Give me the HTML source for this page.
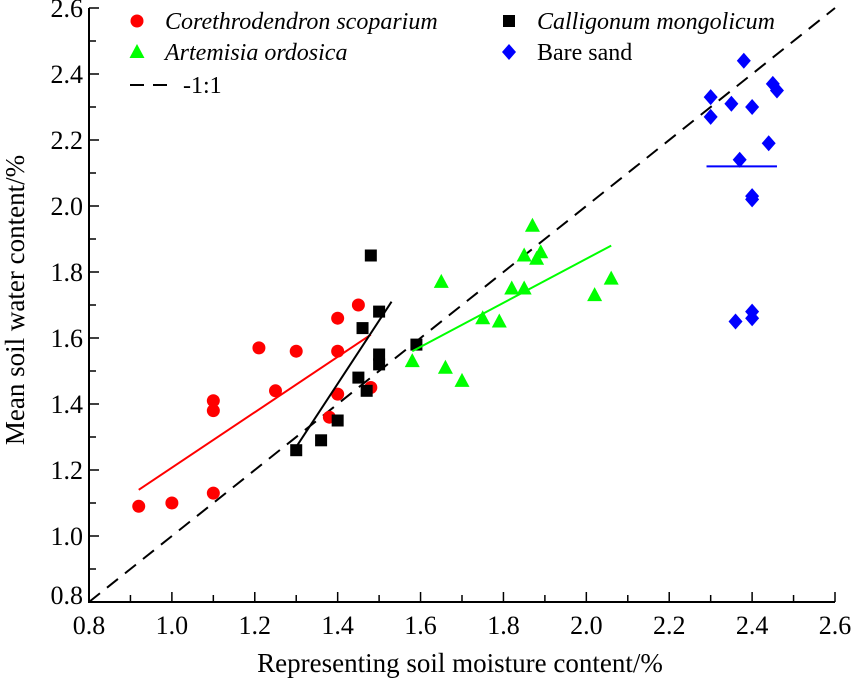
<!DOCTYPE html>
<html><head><meta charset="utf-8"><style>
body{margin:0;background:#fff}
svg text{font-family:"Liberation Serif",serif}
</style></head><body>
<svg id="c" width="851" height="684" xmlns="http://www.w3.org/2000/svg"></svg>
<script>
const xTicks=[0.8,1.0,1.2,1.4,1.6,1.8,2.0,2.2,2.4,2.6];
const yTicks=[0.8,1.0,1.2,1.4,1.6,1.8,2.0,2.2,2.4,2.6];
const redX=[0.92,1.0,1.10,1.10,1.10,1.21,1.25,1.30,1.38,1.40,1.40,1.40,1.45,1.48];
const redY=[1.09,1.10,1.13,1.38,1.41,1.57,1.44,1.56,1.36,1.43,1.56,1.66,1.70,1.45];
const blackX=[1.30,1.36,1.40,1.45,1.46,1.47,1.48,1.50,1.50,1.50,1.59];
const blackY=[1.26,1.29,1.35,1.48,1.63,1.44,1.85,1.68,1.55,1.52,1.58];
const greenX=[1.58,1.65,1.66,1.70,1.75,1.79,1.82,1.85,1.85,1.87,1.88,1.89,2.02,2.06];
const greenY=[1.53,1.77,1.51,1.47,1.66,1.65,1.75,1.75,1.85,1.94,1.84,1.86,1.73,1.78];
const blueX=[2.30,2.30,2.35,2.37,2.38,2.40,2.40,2.40,2.40,2.40,2.36,2.44,2.45,2.46];
const blueY=[2.33,2.27,2.31,2.14,2.44,2.30,2.03,2.02,1.68,1.66,1.65,2.19,2.37,2.35];
const redFit=[[0.92,1.14],[1.48,1.61]];
const blackFit=[[1.30,1.27],[1.53,1.71]];
const greenFit=[[1.58,1.56],[2.06,1.88]];
const blueFit=[[2.29,2.12],[2.46,2.12]];
const oneToOne=[[0.8,0.8],[2.6,2.6]];

const svg=document.getElementById('c');const NS='http://www.w3.org/2000/svg';
const X0=89,X1=835,Y0=602,Y1=8;
const sx=v=>X0+(v-0.8)/1.8*(X1-X0);
const sy=v=>Y0-(v-0.8)/1.8*(Y0-Y1);
function mk(t,a,p){const e=document.createElementNS(NS,t);for(const k in a)e.setAttribute(k,a[k]);(p||svg).appendChild(e);return e;}
// axes
let ax=mk('path',{d:`M${X0},${Y1}V${Y0}H${X1}`,stroke:'#000','stroke-width':2,fill:'none'});


for(let i=0;i<=18;i++){const v=0.8+i*0.1;const L=(i%2==0)?10:7;
 let t=mk('line',{x1:sx(v),x2:sx(v),y1:Y0,y2:Y0-L,stroke:'#000','stroke-width':1.5});
 
 
 let u=mk('line',{x1:X0,x2:X0+L,y1:sy(v),y2:sy(v),stroke:'#000','stroke-width':1.5});
 
 }
xTicks.forEach(v=>{let t=mk('text',{x:sx(v),y:Y0+32,'font-size':26,'text-anchor':'middle'});t.textContent=v.toFixed(1);
 
 });
yTicks.forEach(v=>{let t=mk('text',{x:X0-6,y:sy(v)+(v==0.8?2:9),'font-size':26,'text-anchor':'end'});t.textContent=v.toFixed(1);
 
 });
let xl=mk('text',{x:460,y:672,'font-size':27,'text-anchor':'middle'});xl.textContent='Representing soil moisture content/%';


let yl=mk('text',{x:0,y:0,'font-size':27,'text-anchor':'middle',transform:'translate(24,300) rotate(-90)'});yl.textContent='Mean soil water content/%';


function line(p,col,dash,name){let l=mk('line',{x1:sx(p[0][0]),y1:sy(p[0][1]),x2:sx(p[1][0]),y2:sy(p[1][1]),stroke:col,'stroke-width':2});if(dash)l.setAttribute('stroke-dasharray',dash);
 
 }
line(oneToOne,'#000','14,9','one-to-one-line');
function marker(shape,x,y,col){let e;
 if(shape=='c')e=mk('circle',{cx:x,cy:y,r:6.5,fill:col});
 else if(shape=='s')e=mk('rect',{x:x-6,y:y-6,width:12,height:12,fill:col});
 else if(shape=='t')e=mk('polygon',{points:`${x},${y-8} ${x-7.5},${y+6} ${x+7.5},${y+6}`,fill:col});
 else e=mk('polygon',{points:`${x},${y-8} ${x+7},${y} ${x},${y+8} ${x-7},${y}`,fill:col});
 return e;}
function series(xs,ys,shape,col,name){xs.forEach((v,i)=>{let e=marker(shape,sx(v),sy(ys[i]),col);
 
 });}
series(redX,redY,'c','#f00','point-corethrodendron');
series(blackX,blackY,'s','#000','point-calligonum');
series(greenX,greenY,'t','#0f0','point-artemisia');
series(blueX,blueY,'d','#00f','point-bare-sand');
line(redFit,'#f00',null,'fit-corethrodendron');
line(blackFit,'#000',null,'fit-calligonum');
line(greenFit,'#0f0',null,'fit-artemisia');
line(blueFit,'#00f',null,'fit-bare-sand');
// legend
function leg(shape,col,x,y,txt,ital,name){let g=mk('g',{});
 
 
 if(shape=='dash'){mk('line',{x1:x-8,x2:x+34,y1:y,y2:y,stroke:'#000','stroke-width':2,'stroke-dasharray':'14,9'},g);}
 else g.appendChild(marker(shape,x,y,col));
 let t=mk('text',{x:shape=='dash'?x+45:x+28,y:y+8,'font-size':24,'font-family':'Liberation Sans','font-style':ital?'italic':'normal'},g);t.textContent=txt;}
leg('c','#f00',137,21,'Corethrodendron scoparium',1,'legend-corethrodendron');
leg('s','#000',509,21,'Calligonum mongolicum',1,'legend-calligonum');
leg('t','#0f0',137,52,'Artemisia ordosica',1,'legend-artemisia');
leg('d','#00f',509,52,'Bare sand',0,'legend-bare-sand');
leg('dash','#000',138,85,'-1:1',0,'legend-one-to-one');
</script>
</body></html>
